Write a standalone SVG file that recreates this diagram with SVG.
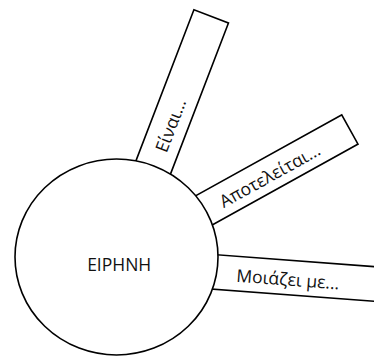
<svg xmlns="http://www.w3.org/2000/svg" width="374" height="356" viewBox="0 0 374 356">
<style>
.box{fill:#fff;stroke:#000;stroke-width:1.6}
.lbl{font-family:"Open Sans","Noto Sans",sans-serif;font-size:17.5px;fill:#111}
</style>
<rect width="374" height="356" fill="#fff"/>
<g id="connectors"></g>
<g id="box-einai" transform="translate(137.3,157.3) rotate(-69)">
<rect class="box" x="-10" y="0" width="168" height="37"/>
<text class="lbl" x="14" y="26">Είναι...</text>
</g>
<g id="box-apoteleitai" transform="translate(198.3,194.3) rotate(-29)">
<rect class="box" x="-20" y="0" width="184" height="33.5"/>
<text class="lbl" x="15.6" y="24.5">Αποτελείται...</text>
</g>
<g id="box-moiazei" transform="translate(200,253.5) rotate(4.3)">
<rect class="box" x="0" y="0" width="200" height="34.5"/>
<text class="lbl" x="38" y="25.4">Μοιάζει με...</text>
</g>
<g id="eirini">
<ellipse cx="116.5" cy="257" rx="101.5" ry="98" fill="#fff" stroke="#000" stroke-width="1.6"/>
<text class="lbl" x="119.2" y="270.5" text-anchor="middle">ΕΙΡΗΝΗ</text>
</g>
</svg>
